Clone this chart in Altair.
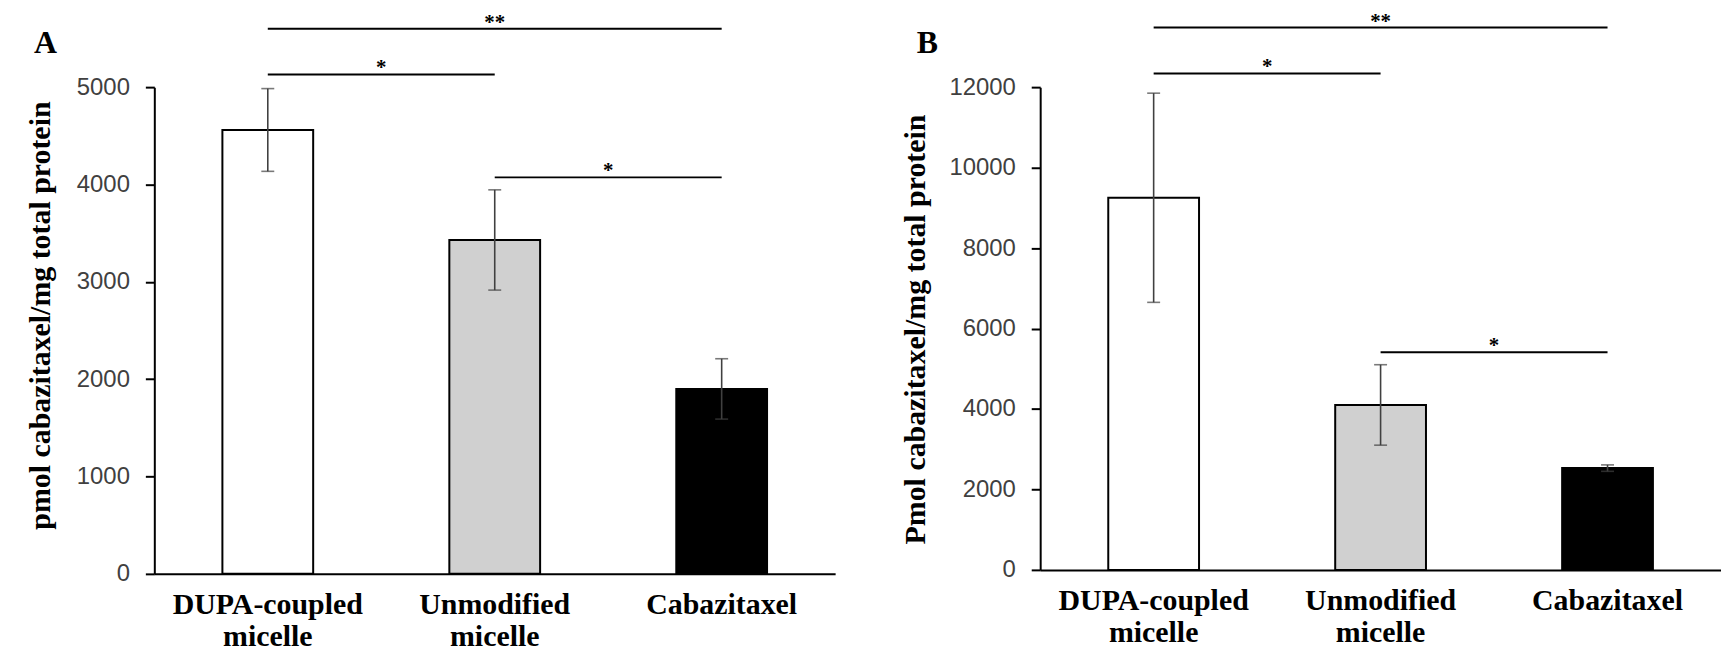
import altair as alt
import pandas as pd

# ---- data ----
categories = ["DUPA-coupled micelle", "Unmodified micelle", "Cabazitaxel"]
fills = ["#ffffff", "#d0d0d0", "#000000"]

a_means = [4560, 3430, 1900]
a_sd = [425, 515, 310]
b_means = [9250, 4100, 2530]
b_sd = [2600, 1000, 80]

a_ticks = [0, 1000, 2000, 3000, 4000, 5000]
b_ticks = [0, 2000, 4000, 6000, 8000, 10000, 12000]

# significance brackets (start, end, height)
br_start = ["DUPA-coupled micelle", "DUPA-coupled micelle", "Unmodified micelle"]
br_end = ["Cabazitaxel", "Unmodified micelle", "Cabazitaxel"]
a_br_y = [5600, 5130, 4073]
b_br_y = [13480, 12340, 5410]

# star labels: one centred on a category, two centred between categories
mid_star_cat = ["Unmodified micelle"]
mid_star_label = ["**"]
half_star_cat = ["DUPA-coupled micelle", "Unmodified micelle"]
half_star_label = ["*", "*"]

W = 684
STEP = W / 3.0
STAR_SIZE = 21


def panel(means, sds, br_y, ymax, yticks, height, title, title_x, title_y,
          letter, letter_x):
    bars = pd.DataFrame({
        "cat": categories,
        "mean": means,
        "lo": [m - s for m, s in zip(means, sds)],
        "hi": [m + s for m, s in zip(means, sds)],
    })
    brackets = pd.DataFrame({"start": br_start, "end": br_end, "y": br_y})
    mid = pd.DataFrame({"cat": mid_star_cat, "y": [br_y[0]], "label": mid_star_label})
    half = pd.DataFrame({"cat": half_star_cat, "y": [br_y[1], br_y[2]],
                         "label": half_star_label})
    letter_df = pd.DataFrame({"t": [letter]})

    yscale = alt.Scale(domain=[0, ymax], nice=False, zero=True)
    xscale = alt.Scale(domain=categories, paddingInner=0.6, paddingOuter=0.3)

    x_axis = alt.Axis(
        title=None, labelAngle=0, labelExpr="split(datum.label, ' ')",
        labelFont="Liberation Serif", labelFontWeight="bold", labelFontSize=30,
        labelColor="black", labelLineHeight=32, labelPadding=16, labelLimit=400,
        ticks=False, domainColor="black", domainWidth=2, labelOverlap=False,
    )
    y_axis = alt.Axis(
        values=yticks, grid=False, title=title, titleFont="Liberation Serif",
        titleFontWeight="bold", titleFontSize=30, titleColor="black",
        titleX=title_x, titleY=title_y, titleAngle=270,
        labelFont="Liberation Sans", labelFontSize=24, labelColor="#404040",
        labelPadding=16, tickSize=9, tickWidth=2, tickColor="black",
        domainColor="black", domainWidth=2, format="d",
    )

    def X(field):
        return alt.X(field, type="nominal", sort=categories, scale=xscale, axis=x_axis)

    def Y(field):
        return alt.Y(field, type="quantitative", scale=yscale, axis=y_axis)

    bar = alt.Chart(bars).mark_bar(stroke="black", strokeWidth=2).encode(
        x=X("cat"), y=Y("mean"),
        color=alt.Color("cat:N", scale=alt.Scale(domain=categories, range=fills),
                        legend=None),
    )
    err = alt.Chart(bars).mark_rule(color="#404040", strokeWidth=1.6).encode(
        x=X("cat"), y=Y("lo"), y2="hi:Q")
    cap_lo = alt.Chart(bars).mark_tick(color="#404040", thickness=1.6, size=13).encode(
        x=X("cat"), y=Y("lo"))
    cap_hi = alt.Chart(bars).mark_tick(color="#404040", thickness=1.6, size=13).encode(
        x=X("cat"), y=Y("hi"))

    br = alt.Chart(brackets).mark_rule(color="black", strokeWidth=2).encode(
        x=X("start"), x2="end:N", y=Y("y"))
    star_mid = alt.Chart(mid).mark_text(
        font="Liberation Serif", fontSize=STAR_SIZE, fontWeight="bold",
        baseline="alphabetic", color="black").encode(
        x=X("cat"), y=Y("y"), text="label:N")
    star_half = alt.Chart(half).mark_text(
        font="Liberation Serif", fontSize=STAR_SIZE, fontWeight="bold",
        baseline="alphabetic", color="black", dx=STEP / 2).encode(
        x=X("cat"), y=Y("y"), text="label:N")

    let = alt.Chart(letter_df).mark_text(
        font="Liberation Serif", fontSize=32, fontWeight="bold",
        align="left", baseline="alphabetic", color="black").encode(
        x=alt.value(letter_x), y=alt.value(-34), text="t:N")

    return alt.layer(bar, err, cap_lo, cap_hi, br, star_mid, star_half, let).properties(
        width=W, height=height)


pa = panel(a_means, a_sd, a_br_y, 5000, a_ticks, 489,
           "pmol cabazitaxel/mg total protein", -99, 229, "A", -121)
pb = panel(b_means, b_sd, b_br_y, 12000, b_ticks, 485,
           "Pmol cabazitaxel/mg total protein", -110, 243, "B", -124)

chart = alt.hconcat(pa, pb, spacing=65, background="white",
                    padding={"left": 17, "top": 1, "right": 0, "bottom": 0}
                    ).configure_view(stroke=None)

chart.save("out.html", embed_options={"renderer": "svg", "actions": False})
